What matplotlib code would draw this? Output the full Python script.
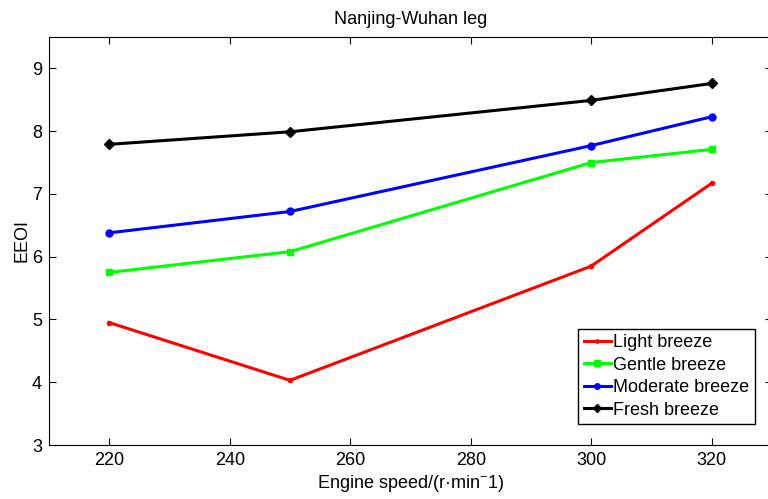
import matplotlib
matplotlib.use("Agg")
import matplotlib.pyplot as plt

plt.rcParams['font.family'] = ['Liberation Sans', 'DejaVu Sans']
plt.rcParams['mathtext.fontset'] = 'custom'
plt.rcParams['mathtext.rm'] = 'Liberation Sans'
plt.rcParams['mathtext.it'] = 'Liberation Sans'

# engine speed (r/min)
speed = [220, 250, 300, 320]

# EEOI per wind condition
light = [4.95, 4.03, 5.85, 7.17]
gentle = [5.75, 6.08, 7.50, 7.71]
moderate = [6.38, 6.72, 7.77, 8.23]
fresh = [7.79, 7.99, 8.49, 8.76]

labels = ["Light breeze", "Gentle breeze", "Moderate breeze", "Fresh breeze"]

fig = plt.figure(figsize=(7.68, 4.99), dpi=100)
ax = fig.add_axes([49/768, 1 - 445/499, 723/768, 408/499])

ax.plot(speed, light, '.-', color='red', lw=2.2, ms=6, label=labels[0])
ax.plot(speed, gentle, 's-', color=(0, 1, 0), lw=2.2, ms=5, label=labels[1])
ax.plot(speed, moderate, 'o-', color='blue', lw=2.2, ms=5, label=labels[2])
ax.plot(speed, fresh, 'D-', color='black', lw=2.2, ms=5, label=labels[3])

ax.set_xlim(210, 330)
ax.set_ylim(3, 9.5)
ax.set_xticks(range(220, 321, 20))
ax.set_yticks(range(3, 10))
ax.tick_params(direction='in', top=True, right=True, labelsize=13, length=5, pad=5)

ax.set_title("Nanjing-Wuhan leg", fontsize=13, pad=9)
ax.set_xlabel("Engine speed/(r\u00b7min$^{-}$1)", fontsize=13, labelpad=3)
ax.set_ylabel("EEOI", fontsize=13, labelpad=1)

leg = ax.legend(loc='lower right', bbox_to_anchor=(755/723 - 49/723, (445 - 424)/408),
                fontsize=13, fancybox=False, edgecolor='black', framealpha=1,
                handlelength=1.5, handletextpad=0.15, borderpad=0.3,
                labelspacing=0.3, borderaxespad=0, markerscale=0.8)
leg.get_frame().set_linewidth(1)

fig.savefig("out.png", dpi=100)
